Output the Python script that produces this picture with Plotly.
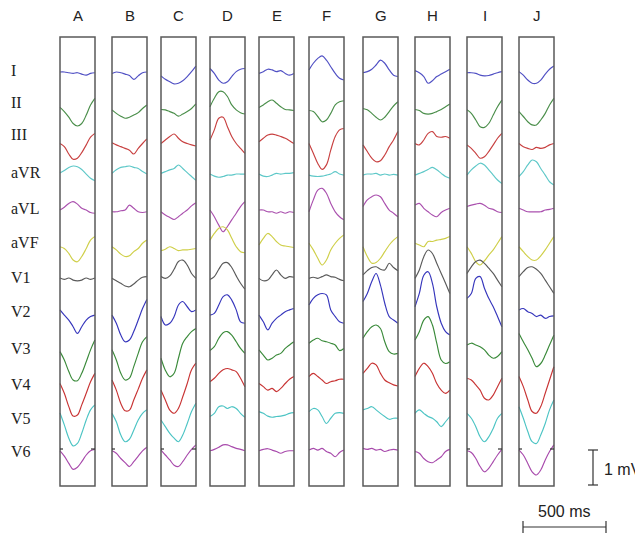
import plotly.graph_objects as go

# ---------------- data ----------------
columns = ["A", "B", "C", "D", "E", "F", "G", "H", "I", "J"]
leads = ["I", "II", "III", "aVR", "aVL", "aVF", "V1", "V2", "V3", "V4", "V5", "V6"]
t_ms = [0, 26, 53, 79, 105, 131, 158, 184, 210]  # sample times within each beat window

# amplitude in mV (one row per lead, 9 samples each)
col_A = [
    [0, 0, -0.02, -0.04, -0.02, -0.06, -0.09, -0.04, -0.02],
    [-0.04, -0.16, -0.32, -0.50, -0.57, -0.50, -0.26, 0.03, 0.22],
    [-0.10, -0.19, -0.40, -0.55, -0.52, -0.36, -0.14, 0.08, 0.19],
    [0, 0.07, 0.16, 0.20, 0.18, 0.10, -0.03, -0.15, -0.22],
    [-0.03, 0.05, 0.16, 0.21, 0.14, 0.02, -0.03, -0.10, -0.12],
    [-0.05, -0.10, -0.24, -0.43, -0.48, -0.33, -0.10, 0.14, 0.24],
    [0, -0.04, 0, -0.06, -0.08, -0.06, 0, -0.04, 0],
    [0.06, -0.09, -0.23, -0.42, -0.61, -0.42, -0.23, -0.13, -0.09],
    [-0.16, -0.40, -0.73, -0.97, -0.99, -0.78, -0.45, -0.11, 0.17],
    [-0.10, -0.38, -0.76, -1.03, -1.00, -0.71, -0.38, -0.05, 0.19],
    [0, -0.34, -0.72, -0.94, -0.87, -0.58, -0.20, 0.09, 0.23],
    [-0.08, -0.23, -0.44, -0.61, -0.55, -0.39, -0.20, -0.08, -0.04],
]
col_B = [
    [-0.04, 0, -0.02, -0.06, -0.10, -0.21, -0.11, -0.02, 0],
    [-0.11, -0.21, -0.29, -0.35, -0.32, -0.26, -0.19, -0.07, 0.03],
    [-0.08, -0.14, -0.19, -0.24, -0.29, -0.40, -0.24, -0.10, 0.03],
    [-0.01, 0.09, 0.16, 0.18, 0.20, 0.16, 0.13, 0.04, -0.03],
    [-0.08, -0.08, -0.05, -0.03, 0.11, 0.02, -0.08, -0.10, -0.08],
    [-0.05, -0.14, -0.26, -0.33, -0.31, -0.19, -0.10, 0.05, 0.14],
    [-0.01, -0.08, -0.15, -0.23, -0.25, -0.17, -0.06, 0.02, 0.04],
    [-0.09, -0.32, -0.66, -0.85, -0.80, -0.56, -0.23, 0.10, 0.36],
    [-0.11, -0.40, -0.78, -0.97, -0.92, -0.59, -0.21, 0.12, 0.27],
    [0, -0.29, -0.67, -0.88, -0.86, -0.57, -0.26, 0.05, 0.29],
    [-0.01, -0.25, -0.63, -0.82, -0.75, -0.49, -0.20, -0.01, 0.09],
    [-0.08, -0.15, -0.30, -0.42, -0.53, -0.39, -0.23, -0.08, 0.02],
]
col_C = [
    [-0.11, -0.21, -0.28, -0.34, -0.32, -0.25, -0.13, 0.01, 0.17],
    [-0.10, -0.11, -0.16, -0.21, -0.29, -0.23, -0.16, -0.07, 0.06],
    [-0.10, 0, 0.10, 0.17, 0.05, -0.05, -0.10, -0.14, -0.17],
    [-0.01, 0.04, 0.09, 0.13, 0.23, 0.13, 0.01, -0.10, -0.21],
    [-0.08, -0.17, -0.24, -0.30, -0.22, -0.12, -0.03, 0.09, 0.18],
    [-0.16, -0.12, -0.05, -0.10, -0.16, -0.14, -0.14, -0.12, -0.10],
    [0.04, -0.01, 0.06, 0.25, 0.47, 0.51, 0.37, 0.13, -0.01],
    [-0.13, -0.37, -0.32, -0.13, 0.20, 0.30, 0.15, 0.01, 0.06],
    [-0.35, -0.69, -0.88, -0.78, -0.35, 0.08, 0.27, 0.41, 0.50],
    [-0.29, -0.57, -0.86, -0.95, -0.81, -0.48, -0.10, 0.29, 0.48],
    [-0.20, -0.39, -0.58, -0.72, -0.82, -0.63, -0.30, 0.04, 0.28],
    [-0.06, -0.20, -0.34, -0.49, -0.53, -0.39, -0.20, -0.04, 0.09],
]
col_D = [
    [0.10, -0.04, -0.23, -0.32, -0.28, -0.13, 0.01, 0.08, 0.10],
    [-0.02, 0.22, 0.41, 0.41, 0.27, 0.03, -0.11, -0.19, -0.23],
    [0, 0.29, 0.62, 0.65, 0.38, 0.10, -0.10, -0.24, -0.38],
    [-0.03, -0.09, -0.12, -0.10, -0.06, -0.06, -0.03, -0.03, -0.03],
    [-0.03, -0.22, -0.46, -0.65, -0.50, -0.31, -0.12, 0.07, 0.21],
    [0.14, 0.33, 0.48, 0.52, 0.43, 0.19, -0.05, -0.19, -0.22],
    [-0.04, 0.04, 0.25, 0.42, 0.44, 0.30, 0.06, -0.15, -0.32],
    [-0.09, -0.04, 0.20, 0.44, 0.49, 0.34, 0.06, -0.28, -0.32],
    [-0.13, -0.02, 0.22, 0.38, 0.41, 0.31, 0.12, -0.07, -0.21],
    [-0.05, 0.05, 0.19, 0.29, 0.33, 0.29, 0.24, 0.05, -0.19],
    [-0.10, -0.01, 0.18, 0.20, 0.13, 0.18, 0.13, -0.01, -0.12],
    [-0.08, -0.04, 0.02, 0.09, 0.09, 0.04, -0.01, -0.04, -0.08],
]
col_E = [
    [-0.04, 0.01, 0.08, 0.06, 0.01, 0.04, -0.04, -0.09, -0.04],
    [-0.04, 0.03, 0.12, 0.17, 0.08, -0.02, -0.10, -0.11, -0.13],
    [-0.05, 0.05, 0.14, 0.17, 0.14, 0.10, 0.05, -0.02, -0.10],
    [-0.03, -0.09, -0.10, -0.06, -0.01, -0.03, -0.01, -0.01, 0.01],
    [-0.03, -0.03, -0.08, -0.08, -0.12, -0.08, -0.12, -0.08, -0.10],
    [0, 0.19, 0.33, 0.24, 0.10, 0, -0.03, -0.05, -0.07],
    [-0.01, -0.08, -0.06, 0.09, 0.23, 0.09, -0.01, 0.04, 0.02],
    [-0.09, -0.28, -0.51, -0.32, -0.18, -0.09, 0.01, 0.06, 0.10],
    [-0.11, -0.26, -0.40, -0.35, -0.26, -0.21, -0.07, 0.03, 0.12],
    [-0.10, -0.19, -0.29, -0.24, -0.33, -0.24, -0.10, 0.02, 0.10],
    [0.04, -0.01, -0.09, -0.12, -0.10, -0.09, -0.06, -0.01, 0.01],
    [-0.08, -0.04, -0.02, -0.06, -0.10, -0.15, -0.10, -0.08, -0.08],
]
col_F = [
    [0.06, 0.25, 0.39, 0.46, 0.34, 0.15, -0.04, -0.18, -0.23],
    [-0.13, -0.16, -0.30, -0.45, -0.40, -0.21, 0.03, 0.12, 0.15],
    [-0.10, -0.38, -0.67, -0.84, -0.71, -0.29, 0.10, 0.29, 0.33],
    [-0.06, -0.09, -0.10, -0.09, -0.06, -0.03, 0.04, -0.03, -0.06],
    [-0.08, 0.26, 0.54, 0.59, 0.45, 0.16, -0.08, -0.22, -0.31],
    [0.05, -0.14, -0.38, -0.57, -0.43, -0.14, 0.05, 0.19, 0.29],
    [-0.01, 0.02, -0.01, 0.04, 0.09, 0.04, 0.02, -0.04, -0.08],
    [0.20, 0.39, 0.49, 0.53, 0.49, 0.06, -0.13, -0.28, -0.32],
    [0.08, 0.17, 0.22, 0.15, 0.12, 0.08, 0.03, -0.13, -0.07],
    [0.10, 0.19, 0.10, 0, -0.10, -0.05, -0.02, 0.02, 0.02],
    [0.04, 0.13, 0.09, -0.10, -0.30, -0.15, -0.01, 0.01, -0.01],
    [-0.06, -0.01, -0.06, -0.01, -0.10, -0.15, -0.25, -0.13, -0.06],
]
col_G = [
    [-0.02, 0.01, 0.08, 0.20, 0.34, 0.25, 0.06, -0.09, -0.13],
    [-0.07, -0.11, -0.21, -0.32, -0.40, -0.32, -0.16, 0, 0.12],
    [-0.14, -0.33, -0.52, -0.62, -0.59, -0.43, -0.19, 0, 0.24],
    [-0.06, -0.03, -0.03, -0.01, -0.06, -0.03, -0.06, -0.04, -0.06],
    [0.07, 0.26, 0.35, 0.40, 0.35, 0.16, -0.03, -0.12, -0.22],
    [-0.05, -0.33, -0.52, -0.50, -0.38, -0.19, 0, 0.14, 0.24],
    [0.09, 0.21, 0.30, 0.32, 0.25, 0.23, 0.42, 0.30, 0.21],
    [0.30, 0.53, 0.87, 1.10, 0.77, 0.25, -0.13, -0.23, -0.32],
    [0.22, 0.41, 0.55, 0.60, 0.50, 0.12, -0.16, -0.23, -0.21],
    [0.19, 0.33, 0.48, 0.43, 0.19, 0, -0.08, -0.14, -0.17],
    [0.09, 0.13, 0.18, 0.09, -0.01, -0.10, -0.18, -0.15, -0.15],
    [-0.01, -0.04, -0.01, -0.06, -0.04, -0.10, -0.06, -0.04, -0.06],
]
col_H = [
    [0.04, -0.02, -0.13, -0.32, -0.25, -0.13, -0.06, 0.01, 0.08],
    [-0.10, -0.13, -0.21, -0.23, -0.21, -0.16, -0.10, -0.02, 0.06],
    [-0.10, -0.14, 0, 0.19, 0.24, 0.10, 0.08, 0.10, 0.05],
    [-0.06, -0.01, 0.04, 0.10, 0.16, 0.09, -0.01, -0.10, -0.15],
    [0.11, 0.16, 0.02, -0.08, -0.17, -0.22, -0.10, -0.03, 0.02],
    [0.05, 0, -0.05, 0.10, 0.10, 0.14, 0.16, 0.19, 0.24],
    [-0.01, 0.23, 0.61, 0.80, 0.70, 0.42, 0.13, -0.15, -0.44],
    [0.15, 0.53, 1.05, 1.15, 0.82, 0.15, -0.32, -0.56, -0.66],
    [0.17, 0.41, 0.74, 0.84, 0.60, 0.08, -0.40, -0.50, -0.45],
    [0.10, 0.33, 0.48, 0.38, 0.19, -0.10, -0.29, -0.38, -0.29],
    [-0.01, 0.09, -0.01, -0.10, -0.15, -0.25, -0.39, -0.25, -0.10],
    [-0.10, -0.15, -0.30, -0.39, -0.42, -0.34, -0.25, -0.10, -0.04],
]
col_I = [
    [-0.02, -0.02, -0.04, -0.09, -0.11, -0.10, -0.06, -0.02, 0.01],
    [-0.11, -0.21, -0.40, -0.59, -0.61, -0.50, -0.26, -0.02, 0.17],
    [-0.14, -0.24, -0.38, -0.52, -0.48, -0.33, -0.14, 0.05, 0.19],
    [-0.06, 0.09, 0.20, 0.28, 0.23, 0.09, -0.06, -0.20, -0.30],
    [0.07, 0.11, 0.14, 0.16, 0.11, 0.02, -0.01, -0.08, -0.10],
    [-0.05, -0.24, -0.48, -0.57, -0.45, -0.29, -0.14, 0.05, 0.24],
    [0.13, 0.32, 0.47, 0.51, 0.42, 0.28, 0.13, -0.06, -0.25],
    [0.39, 0.53, 0.96, 1.01, 0.68, 0.39, 0.15, -0.13, -0.42],
    [0.03, 0.08, 0.03, -0.02, -0.11, -0.26, -0.35, -0.30, -0.16],
    [0.05, 0, -0.14, -0.29, -0.52, -0.57, -0.43, -0.19, 0.05],
    [-0.01, -0.15, -0.39, -0.68, -0.82, -0.68, -0.44, -0.15, -0.01],
    [-0.08, -0.13, -0.30, -0.53, -0.68, -0.58, -0.39, -0.20, -0.04],
]
col_J = [
    [0.01, -0.09, -0.23, -0.32, -0.32, -0.23, -0.06, 0.08, 0.17],
    [-0.16, -0.30, -0.45, -0.54, -0.54, -0.40, -0.21, 0.03, 0.22],
    [-0.10, -0.19, -0.24, -0.27, -0.21, -0.24, -0.21, -0.14, -0.10],
    [-0.10, 0.04, 0.23, 0.37, 0.32, 0.13, -0.06, -0.25, -0.34],
    [0.02, -0.03, -0.08, -0.08, -0.08, -0.08, -0.03, -0.01, 0.02],
    [-0.05, -0.19, -0.33, -0.43, -0.43, -0.31, -0.14, 0.05, 0.24],
    [0.04, 0.18, 0.30, 0.32, 0.25, 0.13, -0.06, -0.25, -0.44],
    [0.06, 0.10, 0.01, -0.04, -0.13, -0.09, -0.18, -0.13, -0.11],
    [0.36, 0.12, -0.11, -0.35, -0.59, -0.50, -0.26, 0.03, 0.31],
    [0.10, -0.19, -0.57, -0.90, -0.95, -0.76, -0.38, 0, 0.38],
    [0.18, -0.15, -0.53, -0.82, -0.87, -0.63, -0.30, 0.09, 0.37],
    [-0.06, -0.20, -0.44, -0.68, -0.77, -0.63, -0.34, -0.10, 0.09],
]
all_cols = [col_A, col_B, col_C, col_D, col_E, col_F, col_G, col_H, col_I, col_J]

# columns whose V6 baseline has a short dark marker at the left / right box edge
v6_marker_left = ["A", "B", "C", "I", "J"]
v6_marker_right = ["A", "C", "I", "J"]

# ---------------- layout / style ----------------
PAGE_W, PAGE_H = 643, 538
OFF = 8  # default page body margin
box_left = [60, 112, 161, 210, 259, 309, 363, 415, 467, 519]
box_w = 35
box_top, box_bottom = 37, 486
lead_base_y = [72, 106, 140, 173, 209, 245, 278, 312, 346, 380, 413, 448]
lead_label_y = [70, 102, 134, 172, 208, 242, 277, 311, 348, 384, 418, 451]
px_per_mV = 35
px_per_ms = 0.166

lead_colors = ["#5050c4", "#4a8e4a", "#c84040", "#5ec8c8", "#aa50ae", "#cfcf48",
               "#5a5a5a", "#3636bc", "#3a8a3a", "#c83434", "#4cc4c4", "#a84aac"]

fig = go.Figure()

for c, data in enumerate(all_cols):
    for l, vals in enumerate(data):
        xs = [box_left[c] + t * px_per_ms for t in t_ms]
        ys = [lead_base_y[l] - v * px_per_mV for v in vals]
        fig.add_trace(go.Scatter(
            x=xs, y=ys, mode="lines",
            line=dict(color=lead_colors[l], width=1.15, shape="spline", smoothing=1.0),
            hoverinfo="skip", showlegend=False))

shapes = []
for c in range(len(columns)):
    shapes.append(dict(type="rect", xref="x", yref="y",
                       x0=box_left[c], x1=box_left[c] + box_w, y0=box_top, y1=box_bottom,
                       line=dict(color="#5a5a5a", width=1.5), fillcolor="rgba(0,0,0,0)"))

v6y = lead_base_y[-1] + 1
for name in v6_marker_left:
    c = columns.index(name)
    shapes.append(dict(type="line", xref="x", yref="y", x0=box_left[c], x1=box_left[c] + 3,
                       y0=v6y, y1=v6y, line=dict(color="#333", width=1.2)))
for name in v6_marker_right:
    c = columns.index(name)
    shapes.append(dict(type="line", xref="x", yref="y", x0=box_left[c] + box_w - 4, x1=box_left[c] + box_w,
                       y0=v6y, y1=v6y, line=dict(color="#333", width=1.2)))

annotations = []
for c, name in enumerate(columns):
    annotations.append(dict(x=box_left[c] + box_w / 2, y=15, xref="x", yref="y",
                            text=name, showarrow=False,
                            font=dict(family="Liberation Sans, Arial", size=15, color="#222")))
for l, name in enumerate(leads):
    annotations.append(dict(x=9, y=lead_label_y[l], xref="x", yref="y", xanchor="left",
                            text=name, showarrow=False,
                            font=dict(family="Liberation Serif, Times New Roman", size=16, color="#222")))

# scale bars
vb_x, vb_top = 593, 450
vb_bot = vb_top + 1 * px_per_mV
shapes += [
    dict(type="line", xref="x", yref="y", x0=vb_x, x1=vb_x, y0=vb_top, y1=vb_bot, line=dict(color="#333", width=1.2)),
    dict(type="line", xref="x", yref="y", x0=vb_x - 5, x1=vb_x + 5, y0=vb_top, y1=vb_top, line=dict(color="#333", width=1.2)),
    dict(type="line", xref="x", yref="y", x0=vb_x - 5, x1=vb_x + 5, y0=vb_bot, y1=vb_bot, line=dict(color="#333", width=1.2)),
]
hb_x0, hb_y = 523, 527
hb_x1 = hb_x0 + 500 * px_per_ms
shapes += [
    dict(type="line", xref="x", yref="y", x0=hb_x0, x1=hb_x1, y0=hb_y, y1=hb_y, line=dict(color="#333", width=1.2)),
    dict(type="line", xref="x", yref="y", x0=hb_x0, x1=hb_x0, y0=hb_y - 6, y1=hb_y + 6, line=dict(color="#333", width=1.2)),
    dict(type="line", xref="x", yref="y", x0=hb_x1, x1=hb_x1, y0=hb_y - 6, y1=hb_y + 6, line=dict(color="#333", width=1.2)),
]
annotations.append(dict(x=vb_x + 9, y=(vb_top + vb_bot) / 2 + 2, xref="x", yref="y", xanchor="left",
                        text="1 mV", showarrow=False,
                        font=dict(family="Liberation Sans, Arial", size=16, color="#222")))
annotations.append(dict(x=(hb_x0 + hb_x1) / 2 - 1, y=hb_y - 16, xref="x", yref="y",
                        text="500 ms", showarrow=False,
                        font=dict(family="Liberation Sans, Arial", size=16, color="#222")))

fig.update_layout(
    width=PAGE_W - OFF, height=PAGE_H - OFF, margin=dict(l=0, r=0, t=0, b=0),
    paper_bgcolor="white", plot_bgcolor="white",
    xaxis=dict(range=[OFF, PAGE_W], visible=False, fixedrange=True),
    yaxis=dict(range=[PAGE_H, OFF], visible=False, fixedrange=True),
    shapes=shapes, annotations=annotations,
)

fig.write_html("out.html", config={"displayModeBar": False})
